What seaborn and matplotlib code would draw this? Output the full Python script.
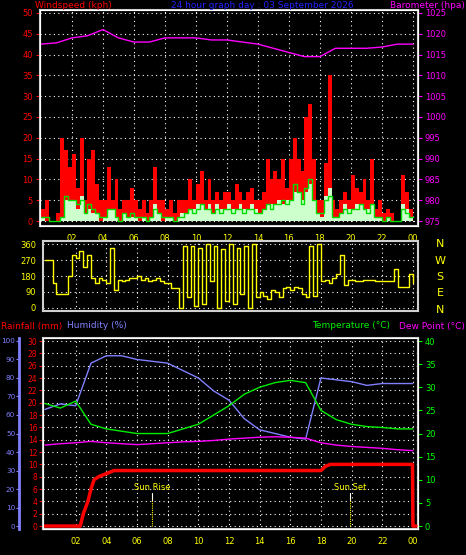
import numpy as np
import pandas as pd
import seaborn as sns
import matplotlib.pyplot as plt

# 15-minute wind data, 00:00 .. 24:00
gust = [3, 5, 0, 0, 2, 20, 17, 13, 16, 8, 20, 5, 15, 17, 9, 5,
        5, 13, 5, 10, 3, 5, 5, 8, 5, 3, 5, 2, 5, 13, 5, 5,
        3, 5, 2, 5, 5, 5, 10, 5, 9, 12, 5, 10, 5, 7, 5, 7,
        7, 5, 9, 7, 5, 7, 8, 5, 5, 7, 15, 10, 12, 10, 15, 8,
        15, 20, 15, 12, 25, 28, 15, 5, 5, 14, 35, 5, 3, 5, 7, 5,
        11, 8, 7, 10, 5, 15, 3, 5, 2, 3, 2, 0, 0, 11, 7, 3, 3]
avg_speed = [1, 1, 0, 0, 0, 1, 6, 5, 5, 4, 5, 2, 4, 3, 2, 1,
             1, 3, 3, 1, 0, 2, 1, 2, 1, 1, 1, 0, 1, 3, 2, 1,
             1, 1, 0, 1, 1, 2, 3, 2, 3, 4, 3, 3, 2, 3, 2, 3,
             3, 2, 3, 3, 2, 3, 3, 2, 2, 3, 4, 3, 4, 4, 5, 4,
             5, 9, 7, 4, 8, 10, 5, 2, 2, 5, 6, 1, 1, 2, 3, 2,
             3, 3, 4, 3, 2, 4, 1, 1, 0, 1, 0, 0, 0, 3, 2, 1, 1]
speed = [1, 0, 0, 0, 0, 1, 5, 5, 5, 3, 6, 2, 3, 2, 2, 0,
         1, 3, 3, 1, 0, 2, 1, 1, 1, 0, 1, 0, 1, 4, 2, 0,
         1, 1, 0, 1, 2, 2, 3, 3, 4, 4, 3, 4, 2, 4, 3, 3,
         4, 3, 3, 4, 3, 3, 4, 3, 2, 3, 4, 4, 4, 5, 4, 5,
         5, 7, 7, 5, 7, 9, 5, 2, 1, 6, 8, 1, 1, 2, 4, 3,
         3, 4, 4, 3, 3, 4, 1, 1, 0, 1, 0, 0, 0, 4, 3, 1, 1]
direction = [270, 270, 140, 80, 80, 80, 180, 300, 280, 320, 230, 300, 170, 140, 170, 160,
             140, 340, 100, 160, 150, 160, 170, 170, 180, 160, 170, 150, 160, 170, 150, 140,
             140, 110, 110, 0, 350, 60, 350, 10, 340, 20, 360, 150, 350, 0, 330, 40,
             360, 20, 340, 80, 350, 0, 360, 60, 90, 70, 50, 100, 90, 60, 110, 120,
             100, 120, 110, 80, 60, 350, 70, 360, 150, 160, 140, 170, 190, 300, 130, 160,
             160, 150, 150, 160, 160, 155, 150, 150, 150, 150, 150, 220, 120, 120, 120, 190, 140]

# hourly data
barometer = [1017.5, 1017.8, 1019, 1019.5, 1021, 1019, 1018, 1018, 1019, 1019, 1019, 1018.5,
             1018.5, 1018, 1017.5, 1016.5, 1015.5, 1014.5, 1014.5, 1016.5, 1016.5, 1016.5,
             1016.8, 1017.5, 1017.5]
humidity = [63, 66, 65, 88, 92, 92, 90, 89, 88, 84, 80, 73, 68, 58, 52, 50, 48, 47, 80, 79,
            78, 76, 77, 77, 77]
temperature = [26.5, 25.5, 27, 22, 21, 20.5, 20, 20, 20, 21, 22, 24, 26, 28.5, 30, 31, 31.5,
               31, 25, 23, 22, 21.5, 21.3, 21, 21]
dew_point = [17.5, 17.8, 18, 18.3, 18, 17.8, 17.6, 17.8, 18, 18.2, 18.3, 18.5, 18.8, 19, 19.2,
             19.3, 19.2, 19, 18, 17.5, 17.2, 17, 16.8, 16.5, 16.3]

rain_time = [0, 2.3, 2.5, 2.8, 3.0, 3.2, 3.5, 4, 4.5, 18, 18.3, 18.6, 23.97, 24.0, 24.2]
rainfall = [0, 0, 2, 4, 6, 7.5, 8, 8.5, 9, 9, 9.7, 10, 10, 0, 0]

hour_ticks = list(range(2, 25, 2))
hour_labels = ['02', '04', '06', '08', '10', '12', '14', '16', '18', '20', '22', '00']

t15 = np.arange(len(gust)) * 0.25
t60 = np.arange(len(humidity))
wind = pd.DataFrame({'t': t15, 'gust': gust, 'avg': avg_speed, 'speed': speed, 'dir': direction})
hourly = pd.DataFrame({'t': t60, 'baro': barometer, 'hum': humidity,
                       'temp': temperature, 'dew': dew_point})
rain = pd.DataFrame({'t': rain_time, 'rain': rainfall})

sns.set_style('dark')
plt.rcParams['font.family'] = ['DejaVu Sans']
plt.rcParams['font.size'] = 6

W, H = 466, 555
fig = plt.figure(figsize=(W / 100, H / 100), dpi=100, facecolor='black')


def frame(ax):
    ax.set_facecolor('black')
    for s in ax.spines.values():
        s.set_color('#d0d0d0')
        s.set_linewidth(1.5)
    ax.grid(True, color='white', linestyle=(0, (1, 3)), linewidth=0.8)
    ax.set_xlabel('')
    ax.set_ylabel('')


def box(x0, y0, x1, y1):
    return [x0 / W, 1 - y1 / H, (x1 - x0) / W, (y1 - y0) / H]


# ---- wind panel
ax1 = fig.add_axes(box(40, 10, 418, 226))
ax1.fill_between(wind['t'], wind['gust'], step='post', color='red', lw=0)
ax1.fill_between(wind['t'], wind['speed'], step='post', color='#ccffcc', lw=0)
sns.lineplot(data=wind, x='t', y='avg', ax=ax1, color='#00dd00', lw=1, drawstyle='steps-post')
ax1.set_xlim(-0.06, 24.33)
ax1.set_ylim(-1.2, 50.7)
ax1.set_yticks(range(0, 51, 5))
ax1.set_xticks(hour_ticks)
ax1.set_xticklabels(hour_labels, color='yellow')
ax1.tick_params(axis='y', colors='red', length=3, pad=2)
ax1.tick_params(axis='x', colors='white', length=2, labelcolor='yellow')
frame(ax1)
ax1b = ax1.twinx()
sns.lineplot(data=hourly, x='t', y='baro', ax=ax1b, color='magenta', lw=1)
ax1b.set_ylim(975 - 1.2, 1025.7)
ax1b.set_yticks(range(975, 1026, 5))
ax1b.tick_params(axis='y', colors='magenta', length=3, pad=2)
ax1b.set_ylabel('')
ax1b.grid(False)
fig.text(35 / W, 1 - 6 / H, 'Windspeed (kph)', color='red', ha='left', va='center', fontsize=6.5)
fig.text(262 / W, 1 - 6 / H, '24 hour graph day : 03 September 2026', color='#2222ff',
         ha='center', va='center', fontsize=6.5)
fig.text(465 / W, 1 - 6 / H, 'Barometer (hpa)', color='magenta', ha='right', va='center', fontsize=6.5)

# ---- direction panel
ax2 = fig.add_axes(box(43, 241, 418, 311))
sns.lineplot(data=wind, x='t', y='dir', ax=ax2, color='yellow', lw=1, drawstyle='steps-post')
ax2.set_xlim(-0.13, 24.33)
ax2.set_ylim(-17, 377)
ax2.set_yticks([0, 90, 180, 270, 360])
ax2.set_xticks(hour_ticks)
ax2.set_xticklabels([])
ax2.tick_params(axis='y', colors='yellow', length=3, pad=2)
ax2.tick_params(axis='x', colors='white', length=2)
frame(ax2)
for i, c in enumerate(['N', 'W', 'S', 'E', 'N']):
    fig.text(440 / W, 1 - (244 + i * 16.5) / H, c, color='yellow', ha='center', va='center', fontsize=8)

# ---- rain / humidity / temperature panel
ax3 = fig.add_axes(box(43, 338, 418, 529))
ax3h = ax3.twinx()
ax3t = ax3.twinx()
sns.lineplot(data=hourly, x='t', y='hum', ax=ax3h, color='#8080ff', lw=1)
sns.lineplot(data=hourly, x='t', y='temp', ax=ax3t, color='#00ee00', lw=1)
sns.lineplot(data=hourly, x='t', y='dew', ax=ax3t, color='magenta', lw=1)
sns.lineplot(data=rain, x='t', y='rain', ax=ax3, color='red', lw=2.5, zorder=5)

ax3.set_xlim(-0.13, 24.33)
ax3.set_ylim(-0.48, 30.5)
ax3.set_yticks(range(0, 31, 2))
ax3.set_xticks(hour_ticks)
ax3.set_xticklabels(hour_labels)
ax3.tick_params(axis='y', colors='red', length=3, pad=1, labelsize=5.5)
ax3.tick_params(axis='x', colors='white', length=2, labelcolor='yellow')
frame(ax3)

ax3h.yaxis.tick_left()
ax3h.spines['left'].set_position(('outward', 17))
ax3h.spines['left'].set_color('#8080ff')
ax3h.spines['left'].set_linewidth(2)
ax3h.spines['right'].set_visible(False)
ax3h.spines['top'].set_visible(False)
ax3h.set_ylim(-1.6, 101.6)
ax3h.set_yticks(range(0, 101, 10))
ax3h.tick_params(axis='y', colors='#8080ff', length=2, pad=1, labelsize=5.2)
ax3h.grid(False)

ax3t.set_ylim(-0.64, 40.65)
ax3t.set_yticks(range(0, 41, 5))
ax3t.tick_params(axis='y', colors='#00ff00', length=3, pad=2)
ax3t.grid(False)
for a in (ax3h, ax3t):
    a.set_ylabel('')
    a.set_xlabel('')

for t, label in [(7.0, 'Sun Rise'), (19.9, 'Sun Set')]:
    ax3.plot([t, t], [0, 4.3], color='yellow', lw=0.8, linestyle=(0, (1, 1)))
    ax3.plot([t, t], [4.3, 5.3], color='white', lw=0.8)
    ax3.text(t, 6.2, label, color='yellow', ha='center', va='center', fontsize=6)

fig.text(1 / W, 1 - 326 / H, 'Rainfall (mm)', color='red', ha='left', va='center', fontsize=6.5)
fig.text(67 / W, 1 - 326 / H, 'Humidity (%)', color='#8080ff', ha='left', va='center', fontsize=6.5)
fig.text(312 / W, 1 - 326 / H, 'Temperature (\u00b0C)', color='#00ee00', ha='left', va='center', fontsize=6.5)
fig.text(465 / W, 1 - 326 / H, 'Dew Point (\u00b0C)', color='magenta', ha='right', va='center', fontsize=6.5)

fig.savefig('out.png', dpi=100, facecolor='black')
